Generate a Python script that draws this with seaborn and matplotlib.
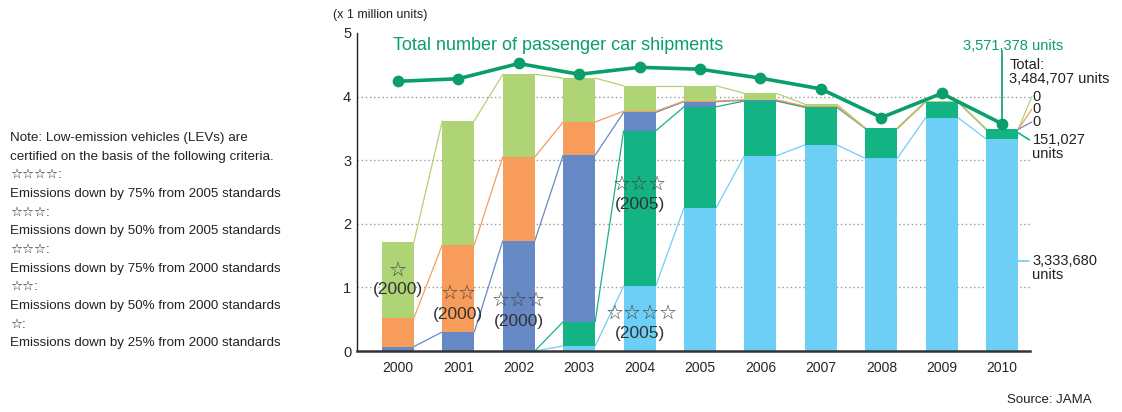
import numpy as np
import seaborn as sns
import matplotlib.pyplot as plt

sns.set_style('white')
plt.rcParams['font.family'] = ['Liberation Sans', 'DejaVu Sans']

# ---- data (million units) ----
years = ['2000', '2001', '2002', '2003', '2004', '2005', '2006', '2007', '2008', '2009', '2010']
star4_2005 = [0, 0, 0, 0.08, 1.02, 2.25, 3.07, 3.24, 3.03, 3.67, 3.334]
star3_2005 = [0, 0, 0, 0.38, 2.44, 1.59, 0.86, 0.59, 0.47, 0.25, 0.151]
star3_2000 = [0.07, 0.30, 1.73, 2.62, 0.29, 0.08, 0.01, 0.01, 0.0, 0.0, 0.0]
star2_2000 = [0.45, 1.37, 1.32, 0.52, 0.02, 0.01, 0.01, 0.01, 0.0, 0.0, 0.0]
star1_2000 = [1.19, 1.95, 1.30, 0.69, 0.40, 0.24, 0.10, 0.03, 0.01, 0.01, 0.0]
total_shipments = [4.24, 4.28, 4.52, 4.35, 4.46, 4.43, 4.29, 4.12, 3.67, 4.05, 3.571]

series_vals = [star4_2005, star3_2005, star3_2000, star2_2000, star1_2000]
colors = ['#6dcff6', '#14b384', '#6689c5', '#f89c5c', '#afd475']
line_green = '#0a9f6a'

note_lines = [
    'Note: Low-emission vehicles (LEVs) are',
    'certified on the basis of the following criteria.',
    '☆☆☆☆:',
    'Emissions down by 75% from 2005 standards',
    '☆☆☆:',
    'Emissions down by 50% from 2005 standards',
    '☆☆☆:',
    'Emissions down by 75% from 2000 standards',
    '☆☆:',
    'Emissions down by 50% from 2000 standards',
    '☆:',
    'Emissions down by 25% from 2000 standards',
]

# (x index, y value, text) for star / year labels inside the bars
star_labels = [(0, 1.27, '☆'), (1, 0.91, '☆☆'), (2, 0.80, '☆☆☆'),
               (4, 2.62, '☆☆☆'), (4.03, 0.60, '☆☆☆☆')]
year_labels = [(0, 0.96, '(2000)'), (1, 0.57, '(2000)'), (2, 0.46, '(2000)'),
               (4, 2.31, '(2005)'), (4, 0.28, '(2005)')]

cum = np.cumsum(np.array(series_vals), axis=0)
w = 0.53
n = len(years)

fig = plt.figure(figsize=(11.22, 4.12), dpi=100)
ax = fig.add_axes([0.318, 0.148, 0.600, 0.772])

for g in [1, 2, 3, 4]:
    ax.axhline(g, color='#9a9a9a', lw=1, ls=(0, (1, 2)), zorder=0)

# stacked bars: draw tallest cumulative first
for k in range(len(series_vals) - 1, -1, -1):
    sns.barplot(x=years, y=cum[k], color=colors[k], width=w, saturation=1,
                errorbar=None, ax=ax, zorder=2, linewidth=0)

# connector lines between bar tops
for k in range(len(series_vals)):
    for i in range(n - 1):
        if cum[k][i] == 0 and cum[k][i + 1] == 0:
            continue
        ax.plot([i + w / 2, i + 1 - w / 2], [cum[k][i], cum[k][i + 1]],
                color=colors[k], lw=0.9, zorder=1)

sns.pointplot(x=years, y=total_shipments, color=line_green, markers='o',
              markersize=6.5, linewidth=2.6, ax=ax, zorder=5)

ax.set_xlim(-0.68, 10.46)
ax.set_ylim(0, 5)
ax.set_yticks(range(6))
ax.set_xlabel('')
ax.set_ylabel('')
ax.tick_params(axis='y', length=0, pad=4, labelsize=10.5)
ax.tick_params(axis='x', length=0, pad=7, labelsize=10)
for s in ['top', 'right']:
    ax.spines[s].set_visible(False)
ax.spines['left'].set_color('#222')
ax.spines['left'].set_linewidth(1)
ax.spines['bottom'].set_color('#333')
ax.spines['bottom'].set_linewidth(1.8)

ax.text(-0.08, 4.8, 'Total number of passenger car shipments', color=line_green,
        fontsize=13, va='center', ha='left')

for x, y, t in star_labels:
    ax.text(x, y, t, ha='center', va='center', fontsize=14.5, color='#444')
for x, y, t in year_labels:
    ax.text(x, y, t, ha='center', va='center', fontsize=12.5, color='#333')

# right-hand annotations for 2010
re = 10 + w / 2
ax.plot([re, 10.49], [cum[4][10], 4.00], color=colors[4], lw=0.9, clip_on=False)
ax.plot([re, 10.49], [cum[3][10], 3.80], color=colors[3], lw=0.9, clip_on=False)
ax.plot([re, 10.49], [cum[2][10], 3.60], color=colors[2], lw=0.9, clip_on=False)
for yy in [4.00, 3.80, 3.60]:
    ax.text(10.50, yy, '0', fontsize=10.5, va='center', ha='left', color='#222')
ax.plot([re, 10.45], [3.43, 3.32], color=colors[1], lw=1.2, clip_on=False)
ax.text(10.50, 3.20, '151,027\nunits', fontsize=10.5, va='center', ha='left',
        color='#222', linespacing=1.0)
ax.plot([re, 10.45], [1.41, 1.41], color=colors[0], lw=1.2, clip_on=False)
ax.text(10.50, 1.30, '3,333,680\nunits', fontsize=10.5, va='center', ha='left',
        color='#222', linespacing=1.0)
ax.text(10.12, 4.38, 'Total:\n3,484,707 units', fontsize=10.5, va='center',
        ha='left', color='#222', linespacing=1.0)
ax.plot([10, 10], [total_shipments[10], 4.71], color=line_green, lw=1.2,
        clip_on=False, zorder=4)
ax.text(10.18, 4.80, '3,571,378 units', fontsize=10.5, va='center', ha='center',
        color=line_green, clip_on=False)

fig.text(333 / 1122, 1 - 15 / 412, '(x 1 million units)', fontsize=9,
         va='center', ha='left', color='#222')
for i, line in enumerate(note_lines):
    fig.text(10 / 1122, 1 - (138 + i * 18.65) / 412, line, fontsize=9.6,
             va='center', ha='left', color='#222')
fig.text(1092 / 1122, 1 - 400 / 412, 'Source: JAMA', fontsize=9.5,
         va='center', ha='right', color='#222')

fig.savefig('out.png', dpi=100)
